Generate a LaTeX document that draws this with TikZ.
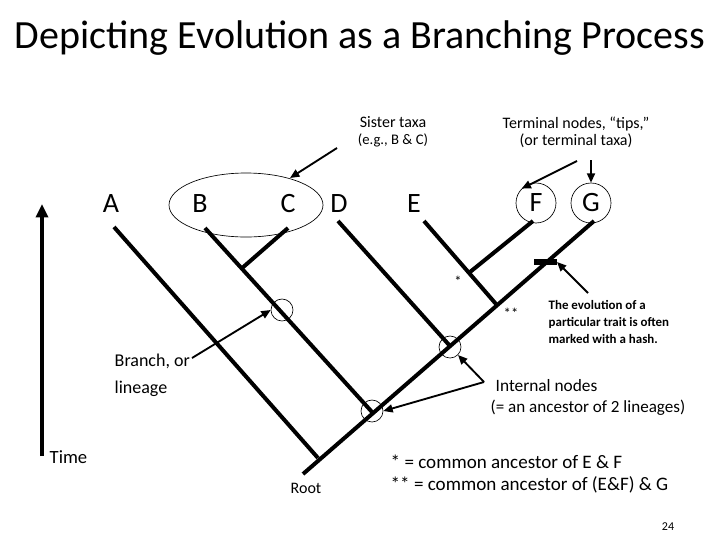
\documentclass[tikz,border=0pt]{standalone}
\usepackage{fontspec}
\setmainfont{Carlito}
\usetikzlibrary{arrows.meta}
\begin{document}
\begin{tikzpicture}[x=0.75pt,y=-0.75pt,
  br/.style={line width=3pt},
  ring/.style={draw,line width=0.5pt,circle,inner sep=0pt},
  ar/.style={line width=1.4pt,-{Triangle[length=7pt,width=6pt]}},
  lbl/.style={font=\fontsize{21}{24}\selectfont},
  txt/.style={font=\fontsize{12}{15}\selectfont,align=center}]
\useasboundingbox (0,0) rectangle (720,540);
\node[font=\fontsize{30}{34}\selectfont] (title) at (360,38) {Depicting Evolution as a Branching Process};
% tree points
\coordinate (root) at (303,474);
\coordinate (jA) at (318,458);
\coordinate (jB) at (372,412);
\coordinate (jD) at (450,346);
\coordinate (jE) at (496,304);
\coordinate (jF) at (470,272);
\coordinate (jC) at (241,269);
\coordinate (tA) at (114,227);
\coordinate (tB) at (205,228);
\coordinate (tC) at (288,228);
\coordinate (tD) at (338,221);
\coordinate (tE) at (424,221);
\coordinate (tF) at (533,221);
\coordinate (tG) at (594,221);
\draw[br] (root) -- (tG);
\draw[br] (jA) -- (tA);
\draw[br] (jB) -- (tB);
\draw[br] (jC) -- (tC);
\draw[br] (jD) -- (tD);
\draw[br] (jE) -- (tE);
\draw[br] (jF) -- (tF);
\draw[line width=4.5pt] (534,262) coordinate (h1) -- (557,262) coordinate (h2);
% labels
\node[lbl] (A) at (111,204) {A};
\node[lbl] (B) at (200,204) {B};
\node[lbl] (C) at (288,204) {C};
\node[lbl] (D) at (339,204) {D};
\node[lbl] (E) at (414,204) {E};
\node[lbl,ring,minimum size=40pt*0.75] (F) at (536,203) {F};
\node[lbl,ring,minimum size=40pt*0.75] (G) at (591,203) {G};
\draw[line width=0.5pt] (246,205) ellipse [x radius=77, y radius=32];
\coordinate (ellTop) at (290,178);
% internal rings
\node[ring,minimum size=16.5pt] (n1) at (282,310) {};
\node[ring,minimum size=16.5pt] (n2) at (450,347) {};
\node[ring,minimum size=16.5pt] (n3) at (372,411) {};
\node[font=\fontsize{11}{12}\selectfont] (s1) at (458,281) {*};
\node[font=\fontsize{11}{12}\selectfont] (s2) at (511,313) {**};
% texts
\node[txt] (sis) at (393,132) {Sister taxa\\[-2pt]{\fontsize{11}{13}\selectfont (e.g., B \& C)}};
\node[txt] (term) at (576,132) {Terminal nodes, “tips,”\\[-2pt](or terminal taxa)};
\node[font=\fontsize{13.5}{20}\selectfont,align=left,anchor=west] (branch) at (110,375) {Branch, or\\lineage};
\node[font=\fontsize{13}{15}\selectfont,anchor=west] (intn) at (491,386) {Internal nodes};
\node[font=\fontsize{12.8}{15}\selectfont,anchor=west] (anc) at (486,408) {(= an ancestor of 2 lineages)};
\node[font=\bfseries\fontsize{9.7}{12.5}\selectfont,align=left,anchor=west] (hash) at (544,322) {The evolution of a\\particular trait is often\\marked with a hash.};
\node[font=\fontsize{14}{16}\selectfont,anchor=west] (time) at (45,457) {Time};
\node[txt] (rootl) at (306,488) {Root};
\node[font=\fontsize{14.3}{17}\selectfont,align=left,anchor=west] (foot) at (386,474) {* = common ancestor of E \& F\\** = common ancestor of (E\&F) \& G};
\node[font=\fontsize{9}{10}\selectfont] (pg) at (668,527) {24};
% arrows
\coordinate (t0) at (42,456);
\coordinate (t1) at (42,204);
\draw[line width=2.5pt,-{Triangle[length=10pt,width=9pt]}] (t0) -- (t1);
\coordinate (sa) at (337,148);
\draw[ar] (sa) -- (ellTop);
\coordinate (fa) at (577,161);
\draw[ar] (fa) -- (F.north west);
\coordinate (ga) at (591,160);
\draw[ar] (ga) -- (G.north);
\coordinate (ba) at (192,358);
\draw[ar] (ba) -- (n1.west);
\coordinate (ia) at (484,382);
\draw[ar] (ia) -- (n2.south east);
\draw[ar] (ia) -- (n3.east);
\coordinate (ha) at (588,293);
\draw[ar] (ha) -- (h2);
\end{tikzpicture}
\end{document}
